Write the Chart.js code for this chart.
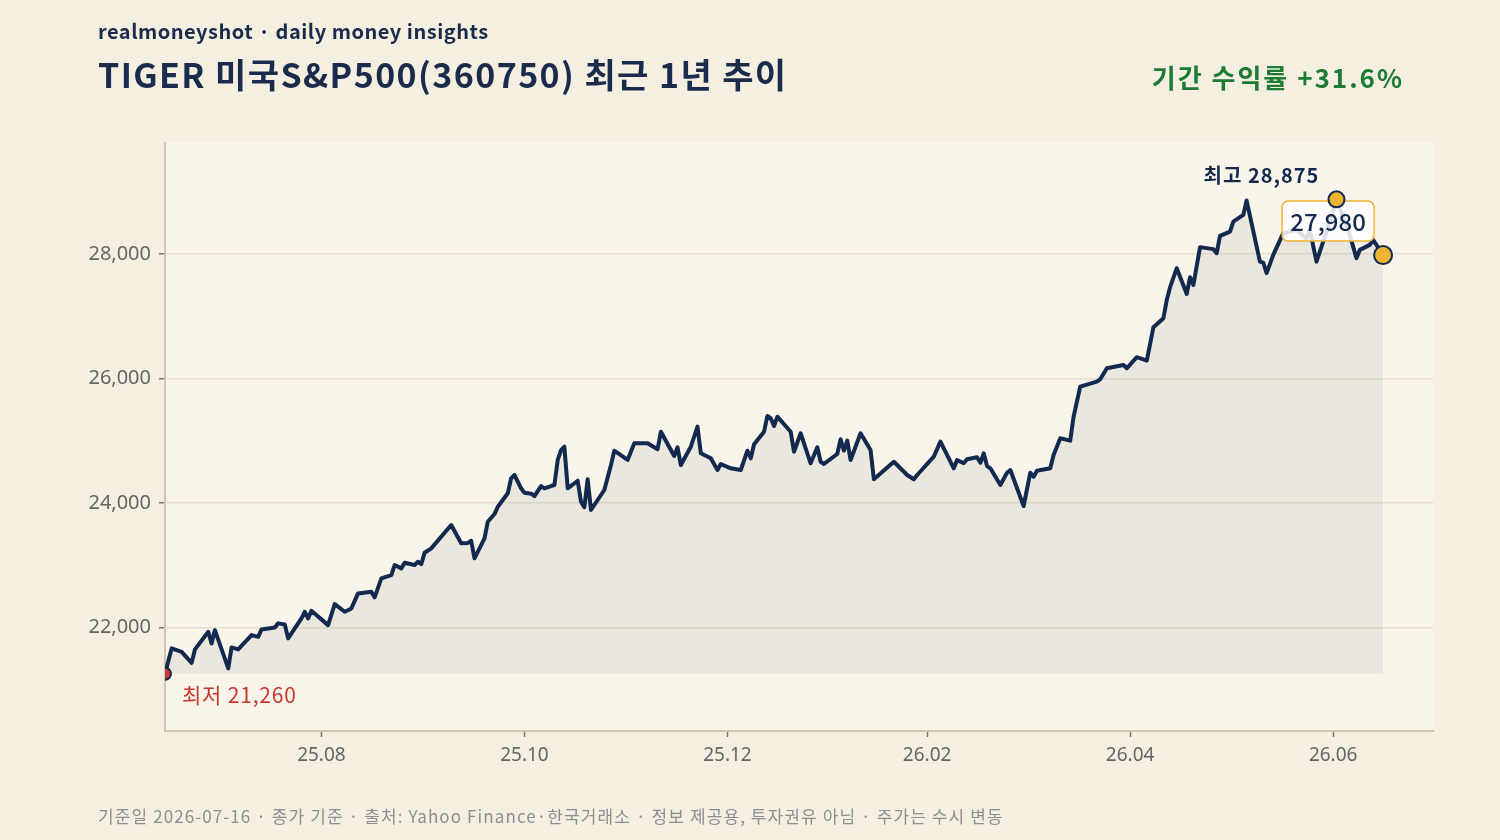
<!DOCTYPE html>
<html>
<head>
<meta charset="utf-8">
<script src="https://cdn.jsdelivr.net/npm/chart.js@4.4.1/dist/chart.umd.min.js"></script>
<style>
  body {margin:0; background:#F4EFE1;}
  #Wrap {position:relative; width:1500px; height:840px; background:#F4EFE1; font-family:'Noto Sans CJK KR','Noto Sans',sans-serif; overflow:hidden;}
  #PriceChart {position:absolute; left:0; top:0;}
  .Txt {position:absolute; white-space:nowrap; line-height:1;}
  #Brand {left:98px; top:21px; font-size:20px; font-weight:700; color:#1B2B4B; letter-spacing:0.5px;}
  #Title {left:98px; top:57px; font-size:34px; font-weight:700; color:#1B2B4B; letter-spacing:1.4px;}
  #Ret {right:96px; top:64px; font-size:26px; font-weight:700; color:#1E7B34; letter-spacing:2px;}
  #Foot {left:98px; top:807px; font-size:17px; color:#8E8E8E; letter-spacing:1.1px;}
</style>
</head>
<body>
<div id="Wrap">
  <canvas id="PriceChart" width="1500" height="840"></canvas>
  <div class="Txt" id="Brand">realmoneyshot · daily money insights</div>
  <div class="Txt" id="Title">TIGER 미국S&amp;P500(360750) 최근 1년 추이</div>
  <div class="Txt" id="Ret"></div>
  <div class="Txt" id="Foot">기준일 2026-07-16 · 종가 기준 · 출처: Yahoo Finance·한국거래소 · 정보 제공용, 투자권유 아님 · 주가는 수시 변동</div>
</div>
<script>
// ---------------- DATA -------------------
// day offset from first session (2025-06 mid) and close price (KRW)
const DayOffset = [
  0,2,5,8,9,13,14,15,19,20,
  22,26,28,29,33,34,36,37,41,42,
  43,44,49,51,54,56,58,62,63,65,
  68,69,71,72,75,76,77,78,80,86,
  89,91,92,93,96,97,99,100,103,104,
  105,107,108,110,111,113,114,116,117,118,
  119,120,121,124,125,126,127,128,132,134,
  135,139,141,145,148,149,153,154,155,158,
  160,161,164,166,167,170,173,175,176,177,
  180,181,182,183,184,188,189,191,194,196,
  197,198,202,203,204,205,206,209,212,213,
  219,223,225,226,231,233,237,238,240,241,
  244,245,246,247,248,251,253,254,258,260,
  261,262,266,267,269,272,273,275,280,281,
  283,288,289,292,295,297,300,301,302,304,
  307,308,309,311,313,315,316,317,320,321,
  324,325,329,330,331,333,336,340,343,344,
  346,348,349,352,356,358,359,362,363,365,366
]
const Closes = [
  21260,21666,21610,21435,21650,21933,21746,21960,21345,21682,
  21650,21880,21852,21971,22003,22068,22051,21827,22148,22254,
  22148,22270,22040,22378,22254,22308,22549,22575,22485,22790,
  22843,23004,22951,23041,23004,23057,23020,23202,23272,23647,
  23353,23360,23394,23112,23433,23700,23823,23941,24156,24397,
  24450,24236,24166,24150,24112,24273,24236,24273,24289,24691,
  24850,24904,24236,24358,24021,23931,24381,23888,24209,24610,
  24840,24691,24959,24960,24863,25145,24755,24895,24610,24904,
  25226,24798,24718,24530,24627,24557,24530,24840,24718,24943,
  25145,25398,25361,25237,25386,25145,24824,25120,24638,24895,
  24663,24627,24787,25023,24840,25001,24691,25120,24851,24381,
  24663,24450,24381,24450,24744,24985,24557,24691,24638,24702,
  24734,24647,24798,24594,24557,24289,24487,24530,23952,24487,
  24423,24519,24557,24771,25039,25001,25386,25868,25949,25987,
  26164,26217,26164,26341,26286,26823,26967,27261,27465,27770,
  27357,27626,27502,28108,28092,28076,28011,28289,28358,28519,
  28626,28856,27876,27860,27690,27984,28333,28386,28241,28386,
  27876,28198,28342,28875,28305,27931,28064,28145,28225,28064,27980
]
const TickDays = [47, 108, 169, 229, 290, 351]
const TickLabels = ['25.08', '25.10', '25.12', '26.02', '26.04', '26.06']
const YTicks = [22000, 24000, 26000, 28000]

// ---------------- HELPERS -------------------
const Points = DayOffset.map((d, i) => ({x: d, y: Closes[i]}))
const MinClose = Math.min(...Closes)
const MaxClose = Math.max(...Closes)
const MinIdx = Closes.indexOf(MinClose)
const MaxIdx = Closes.indexOf(MaxClose)
const LastIdx = Closes.length - 1
const Fmt = v => v.toLocaleString('en-US')

const Ret = (Closes[LastIdx] / Closes[0] - 1) * 100
document.getElementById('Ret').textContent = '기간 수익률 ' + (Ret >= 0 ? '+' : '') + Ret.toFixed(1) + '%'

const Navy = '#132A4E'
const Gold = '#EFB431'
const Red = '#C8372D'
const FontFam = "'Noto Sans CJK KR', 'Noto Sans', sans-serif"
const TickFont = "'Noto Sans', 'Noto Sans CJK KR', sans-serif"
Chart.defaults.font.family = FontFam

// ---------------- PLUGINS -------------------
const PlotBg = {
  id: 'plotBg',
  beforeDraw(chart) {
    const {ctx, chartArea: a} = chart
    ctx.save()
    ctx.fillStyle = '#FAF5EA'
    ctx.fillRect(a.left, a.top, a.right - a.left, a.bottom - a.top)
    ctx.restore()
  }
}

const Notes = {
  id: 'notes',
  beforeDatasetDraw(chart, args) {
    if (args.index !== 0) return
    // last value box, drawn under the markers
    const {ctx, scales} = chart
    const ex = scales.x.getPixelForValue(DayOffset[LastIdx])
    const ey = scales.y.getPixelForValue(Closes[LastIdx])
    const cx = ex - 55, cy = ey - 34, w = 92, h = 40
    ctx.save()
    ctx.beginPath()
    ctx.roundRect(cx - w / 2, cy - h / 2, w, h, 6)
    ctx.fillStyle = 'rgba(255,255,255,0.86)'
    ctx.fill()
    ctx.lineWidth = 1.5
    ctx.strokeStyle = Gold
    ctx.stroke()
    ctx.fillStyle = Navy
    ctx.font = '500 24px ' + FontFam
    ctx.textAlign = 'center'
    ctx.textBaseline = 'middle'
    ctx.fillText(Fmt(Closes[LastIdx]), cx, cy + 1)
    ctx.restore()
  },
  afterDatasetsDraw(chart) {
    const {ctx, scales} = chart
    ctx.save()
    ctx.textBaseline = 'middle'
    // low
    const lx = scales.x.getPixelForValue(DayOffset[MinIdx])
    const ly = scales.y.getPixelForValue(MinClose)
    ctx.fillStyle = Red
    ctx.font = '21px ' + FontFam
    ctx.letterSpacing = '0.8px'
    ctx.textAlign = 'left'
    ctx.fillText('최저 ' + Fmt(MinClose), lx + 17, ly + 21)
    // high
    const hx = scales.x.getPixelForValue(DayOffset[MaxIdx])
    const hy = scales.y.getPixelForValue(MaxClose)
    ctx.fillStyle = Navy
    ctx.font = 'bold 20px ' + FontFam
    ctx.letterSpacing = '1px'
    ctx.textAlign = 'center'
    ctx.fillText('최고 ' + Fmt(MaxClose), hx - 75, hy - 24)
    ctx.restore()
  }
}

// ---------------- CHART -------------------
const Markers = [
  {x: DayOffset[MinIdx], y: MinClose},
  {x: DayOffset[MaxIdx], y: MaxClose},
  {x: DayOffset[LastIdx], y: Closes[LastIdx]}
]

new Chart(document.getElementById('PriceChart').getContext('2d'), {
  type: 'line',
  data: {
    datasets: [{
      label: 'marks',
      data: Markers,
      showLine: false,
      pointRadius: [6, 8, 9],
      pointBackgroundColor: [Red, Gold, Gold],
      pointBorderColor: Navy,
      pointBorderWidth: 2,
      order: 1
    }, {
      label: 'close',
      data: Points,
      borderColor: Navy,
      borderWidth: 4,
      borderJoinStyle: 'round',
      pointRadius: 0,
      tension: 0,
      fill: {value: MinClose},
      backgroundColor: 'rgba(19,41,75,0.065)',
      order: 2
    }]
  },
  options: {
    responsive: false,
    devicePixelRatio: 1,
    animation: false,
    layout: {padding: {left: 0, top: 143, right: 67, bottom: 49}},
    plugins: {
      legend: {display: false},
      tooltip: {enabled: false}
    },
    scales: {
      x: {
        type: 'linear',
        min: 0,
        max: 381,
        afterBuildTicks: s => { s.ticks = TickDays.map(v => ({value: v})) },
        afterFit: s => { s.height = 60 },
        ticks: {
          callback: (v, i) => TickLabels[i],
          color: '#666',
          font: {family: TickFont, size: 19},
          padding: 7,
          maxRotation: 0,
          autoSkip: false
        },
        grid: {drawOnChartArea: false, tickLength: 6, tickColor: '#777', tickWidth: 1.5},
        border: {color: '#CFC6B0', width: 2}
      },
      y: {
        min: 20340,
        max: 29780,
        afterBuildTicks: s => { s.ticks = YTicks.map(v => ({value: v})) },
        afterFit: s => { s.width = 165 },
        ticks: {
          callback: v => Fmt(v),
          color: '#666',
          font: {family: TickFont, size: 20},
          padding: 8
        },
        grid: {color: '#E9E0CD', lineWidth: 1.5, tickLength: 6, tickColor: '#777', tickWidth: 1.5},
        border: {color: '#CFC6B0', width: 2}
      }
    }
  },
  plugins: [PlotBg, Notes]
})
</script>
</body>
</html>
